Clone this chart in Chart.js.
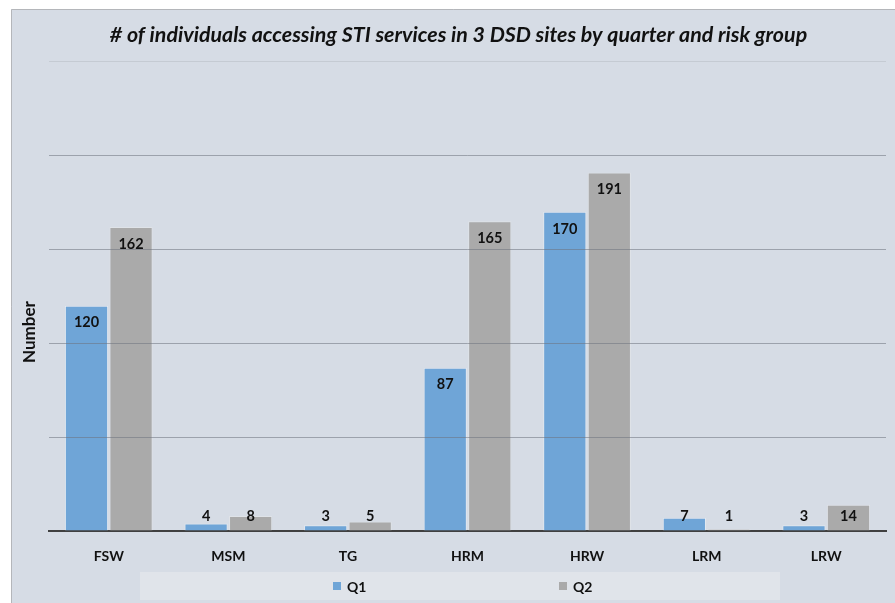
<!DOCTYPE html>
<html>
<head>
<meta charset="utf-8">
<script src="https://cdn.jsdelivr.net/npm/chart.js@4/dist/chart.umd.min.js"></script>
<style>
  html, body { margin: 0; padding: 0; background: #ffffff; }
  #wrap { width: 895px; height: 603px; position: relative; }
</style>
</head>
<body>
<div id="wrap"><canvas id="c" width="895" height="603"></canvas></div>
<script>
// Risk groups and quarterly counts
const categories = ['FSW', 'MSM', 'TG', 'HRM', 'HRW', 'LRM', 'LRW'];
const q1Values = [120, 4, 3, 87, 170, 7, 3];
const q2Values = [162, 8, 5, 165, 191, 1, 14];
const seriesNames = ['Q1', 'Q2'];
const yTicks = [0, 50, 100, 150, 200, 250];
const yTitle = 'Number';

const FONT = 'Lato, "Open Sans", sans-serif';
const Q1_COLOR = '#6fa5d7';
const Q2_COLOR = '#aaaaaa';

// Panel background with a thin frame
const panelPlugin = {
  id: 'panel',
  beforeDraw(chart) {
    const ctx = chart.ctx;
    ctx.save();
    ctx.fillStyle = '#ffffff';
    ctx.fillRect(0, 0, chart.width, chart.height);
    ctx.fillStyle = '#d6dce5';
    ctx.fillRect(11, 9, chart.width - 11, chart.height - 9);
    ctx.strokeStyle = '#b4b6ba';
    ctx.lineWidth = 1;
    ctx.beginPath();
    ctx.moveTo(11.5, chart.height);
    ctx.lineTo(11.5, 9.5);
    ctx.lineTo(chart.width, 9.5);
    ctx.stroke();
    ctx.restore();
  }
};

// Rotated value-axis caption
const axisCaptionPlugin = {
  id: 'axisCaption',
  afterDraw(chart) {
    const ctx = chart.ctx;
    ctx.save();
    ctx.translate(30, 332);
    ctx.rotate(-Math.PI / 2);
    ctx.font = 'bold 17px ' + FONT;
    ctx.fillStyle = '#111111';
    ctx.textAlign = 'center';
    ctx.textBaseline = 'middle';
    ctx.fillText(yTitle, 0, 0);
    ctx.restore();
  }
};

// Value labels at the inner top of each bar, kept inside the plot area
const valueLabelPlugin = {
  id: 'valueLabels',
  afterDatasetsDraw(chart) {
    const ctx = chart.ctx;
    const base = chart.scales.y.getPixelForValue(0);
    ctx.save();
    ctx.font = 'bold 14.5px ' + FONT;
    ctx.fillStyle = '#111111';
    ctx.textAlign = 'center';
    ctx.textBaseline = 'middle';
    chart.data.datasets.forEach((ds, di) => {
      chart.getDatasetMeta(di).data.forEach((bar, i) => {
        const y = Math.min(bar.y + 17, base - 15);
        ctx.fillText(String(ds.data[i]), bar.x, y);
      });
    });
    ctx.restore();
  }
};

// Legend strip along the bottom
const legendStripPlugin = {
  id: 'legendStrip',
  afterDraw(chart) {
    const ctx = chart.ctx;
    ctx.save();
    ctx.fillStyle = '#e0e4ea';
    ctx.fillRect(140, 572, 640, 28);
    const xs = [333, 559];
    ctx.font = 'bold 14px ' + FONT;
    ctx.textBaseline = 'middle';
    ctx.textAlign = 'left';
    chart.data.datasets.forEach((ds, i) => {
      ctx.fillStyle = ds.backgroundColor;
      ctx.fillRect(xs[i], 582, 8, 8);
      ctx.fillStyle = '#111111';
      ctx.fillText(ds.label, xs[i] + 14, 587);
    });
    ctx.restore();
  }
};

new Chart(document.getElementById('c'), {
  type: 'bar',
  data: {
    labels: categories,
    datasets: [
      { label: seriesNames[0], data: q1Values, backgroundColor: Q1_COLOR,
        borderColor: 'rgba(235,242,250,0.55)', borderWidth: 1,
        barPercentage: 0.97, categoryPercentage: 0.745 },
      { label: seriesNames[1], data: q2Values, backgroundColor: Q2_COLOR,
        borderColor: 'rgba(235,235,235,0.45)', borderWidth: 1,
        barPercentage: 0.97, categoryPercentage: 0.745 }
    ]
  },
  options: {
    responsive: false,
    animation: false,
    devicePixelRatio: 1,
    layout: { padding: { left: 31, right: 9, top: 9, bottom: 32 } },
    plugins: {
      legend: { display: false },
      tooltip: { enabled: false },
      title: {
        display: true,
        text: '# of individuals accessing STI services in 3 DSD sites by quarter and risk group',
        color: '#111111',
        font: { family: FONT, size: 21.4, weight: 'bold', style: 'italic', lineHeight: 1.2 },
        padding: { top: 13, bottom: 14 }
      }
    },
    scales: {
      x: {
        grid: { display: false, drawTicks: false },
        border: { display: true, color: '#404040', width: 2 },
        ticks: { color: '#111111', font: { family: FONT, size: 14, weight: 'bold' }, padding: 17 },
        afterFit(scale) { scale.height = 40; }
      },
      y: {
        min: yTicks[0],
        max: yTicks[yTicks.length - 1],
        afterBuildTicks(scale) { scale.ticks = yTicks.map(v => ({ value: v })); },
        ticks: { display: false },
        grid: {
          z: 1,
          drawTicks: false,
          color: (c) => c.tick && c.tick.value === 250 ? 'rgba(120,125,135,0.18)'
                     : c.tick && c.tick.value === 0 ? 'rgba(0,0,0,0)'
                     : 'rgba(110,115,125,0.55)',
          lineWidth: 1
        },
        border: { display: false },
        title: { display: false },
        afterFit(scale) { scale.width = 18; }
      }
    }
  },
  plugins: [panelPlugin, valueLabelPlugin, legendStripPlugin, axisCaptionPlugin]
});
</script>
</body>
</html>
